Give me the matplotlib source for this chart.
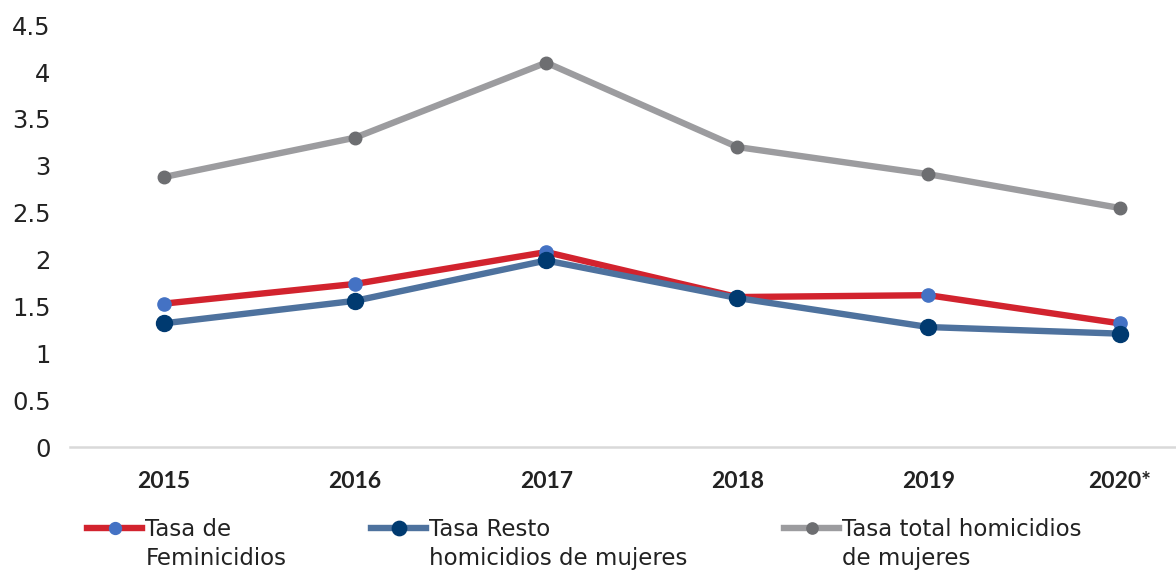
import numpy as np
import matplotlib
matplotlib.use("Agg")
import matplotlib.pyplot as plt

plt.rcParams['font.family'] = ['DejaVu Sans']

# data
years = ["2015", "2016", "2017", "2018", "2019", "2020*"]
tasa_feminicidios = [1.53, 1.74, 2.08, 1.60, 1.62, 1.32]
tasa_resto = [1.32, 1.56, 1.99, 1.59, 1.28, 1.21]
tasa_total = [2.88, 3.30, 4.10, 3.20, 2.91, 2.55]
y_ticks = [0, 0.5, 1, 1.5, 2, 2.5, 3, 3.5, 4, 4.5]
y_tick_labels = ["0", "0.5", "1", "1.5", "2", "2.5", "3", "3.5", "4", "4.5"]
legend_first = ["Tasa de", "Tasa Resto", "Tasa total homicidios"]
legend_second = ["Feminicidios", "homicidios de mujeres", "de mujeres"]

W, H = 1176, 571
x = np.arange(len(years))

fig = plt.figure(figsize=(W / 100, H / 100), dpi=100)
ax = fig.add_axes([0.0595, 0.217, 0.9405, 0.739])

# total homicides
l_total, = ax.plot(x, tasa_total, color="#9c9c9f", linewidth=4.6, marker="o",
                   markersize=9, markerfacecolor="#6d6e71",
                   markeredgecolor="#6d6e71", zorder=2)
# femicides
l_fem, = ax.plot(x, tasa_feminicidios, color="#d2232e", linewidth=4.6,
                 marker="o", markersize=9.5, markerfacecolor="#4472c4",
                 markeredgecolor="#4472c4", zorder=3)
# rest of homicides
l_resto, = ax.plot(x, tasa_resto, color="#4e729e", linewidth=4.6, marker="o",
                   markersize=11.5, markerfacecolor="#003a70",
                   markeredgecolor="#003a70", zorder=4)

ax.set_xlim(-0.492, 5.295)
ax.set_ylim(0, 4.5)
ax.set_yticks(y_ticks)
ax.set_yticklabels(y_tick_labels, fontsize=17.5, color="#222222")
ax.set_xticks(x)
ax.set_xticklabels(years, fontsize=16.5, fontweight="bold", color="#222222",
                   family="Lato")
ax.tick_params(axis="y", length=0, pad=14)
ax.tick_params(axis="x", length=0, pad=17)

for side in ["top", "right", "left"]:
    ax.spines[side].set_visible(False)
ax.spines["bottom"].set_color("#d9d9d9")
ax.spines["bottom"].set_linewidth(1.8)

# legend: one entry per column, second text line added underneath
handles = [l_fem, l_resto, l_total]
legend_x = [87, 371, 784]
legs = []
for h, first, lx in zip(handles, legend_first, legend_x):
    leg = fig.legend([h], [first], loc="upper left",
                     bbox_to_anchor=(lx / W, 1 - 518 / H), frameon=False,
                     fontsize=16.5, handlelength=2.4, handletextpad=0.15,
                     borderaxespad=0, borderpad=0, markerscale=0.9)
    leg.get_texts()[0].set_color("#222222")
    legs.append(leg)

fig.canvas.draw()
for leg, second in zip(legs, legend_second):
    bb = leg.get_texts()[0].get_window_extent()
    fig.text(bb.x0 / W, (bb.y1 - 29) / H, second, fontsize=16.5,
             color="#222222", ha="left", va="top")

fig.savefig("out.png", dpi=100)
